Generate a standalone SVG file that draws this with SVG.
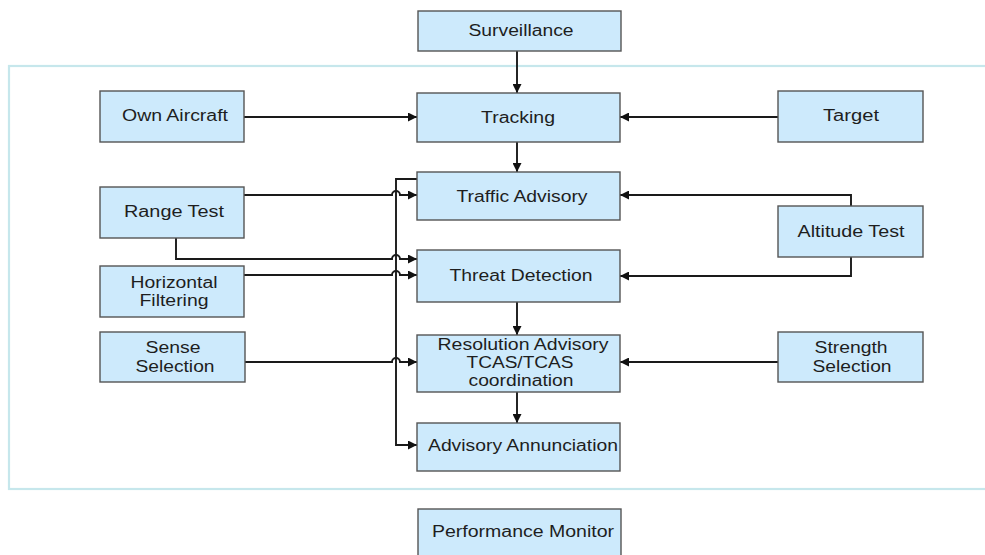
<svg xmlns="http://www.w3.org/2000/svg" width="985" height="555" viewBox="0 0 985 555">
<style>
.box{fill:#cdeafc;stroke:#555;stroke-width:1.4}
.t{font-family:"Liberation Sans",Arial,sans-serif;font-size:16px;fill:#1e1e1e;text-anchor:middle}
.c{fill:none;stroke:#1a1a1a;stroke-width:1.9}
.frame{fill:none;stroke:#c6e7ec;stroke-width:2.2}
</style>
<defs>
<marker id="ah" viewBox="0 0 10 10" refX="10" refY="5" markerWidth="11" markerHeight="9" markerUnits="userSpaceOnUse" orient="auto">
<path d="M0,0 L10,5 L0,10 z" fill="#111"/>
</marker>
</defs>
<rect class="frame" x="9" y="66" width="1000" height="423"/>
<g id="connectors">
<path class="c" d="M517,51 V93" marker-end="url(#ah)"/>
<path class="c" d="M244,117 H417" marker-end="url(#ah)"/>
<path class="c" d="M778,117 H620" marker-end="url(#ah)"/>
<path class="c" d="M517,142 V172" marker-end="url(#ah)"/>
<path class="c" d="M417,179 H396 V445 H417" marker-end="url(#ah)"/>
<path class="c" d="M244,195 H392 A4,4 0 0 1 400,195 H417" marker-end="url(#ah)"/>
<path class="c" d="M176,238 V259 H392 A4,4 0 0 1 400,259 H417" marker-end="url(#ah)"/>
<path class="c" d="M244,275 H392 A4,4 0 0 1 400,275 H417" marker-end="url(#ah)"/>
<path class="c" d="M244,362 H392 A4,4 0 0 1 400,362 H417" marker-end="url(#ah)"/>
<path class="c" d="M851,206 V195 H620" marker-end="url(#ah)"/>
<path class="c" d="M851,257 V276 H620" marker-end="url(#ah)"/>
<path class="c" d="M778,362 H620" marker-end="url(#ah)"/>
<path class="c" d="M517,302 V335" marker-end="url(#ah)"/>
<path class="c" d="M517,392 V423" marker-end="url(#ah)"/>
</g>
<g id="surveillance"><rect class="box" x="418" y="11" width="203" height="40"/><text class="t" x="521" y="36" textLength="105" lengthAdjust="spacingAndGlyphs">Surveillance</text></g>
<g id="own-aircraft"><rect class="box" x="100" y="91" width="144" height="51"/><text class="t" x="175" y="121" textLength="106" lengthAdjust="spacingAndGlyphs">Own Aircraft</text></g>
<g id="tracking"><rect class="box" x="417" y="93" width="203" height="49"/><text class="t" x="518" y="123" textLength="74" lengthAdjust="spacingAndGlyphs">Tracking</text></g>
<g id="target"><rect class="box" x="778" y="91" width="145" height="51"/><text class="t" x="851" y="121" textLength="56" lengthAdjust="spacingAndGlyphs">Target</text></g>
<g id="traffic-advisory"><rect class="box" x="417" y="172" width="203" height="48"/><text class="t" x="522" y="202" textLength="131" lengthAdjust="spacingAndGlyphs">Traffic Advisory</text></g>
<g id="range-test"><rect class="box" x="100" y="187" width="144" height="51"/><text class="t" x="174" y="217" textLength="100" lengthAdjust="spacingAndGlyphs">Range Test</text></g>
<g id="altitude-test"><rect class="box" x="778" y="206" width="145" height="51"/><text class="t" x="851" y="237" textLength="107" lengthAdjust="spacingAndGlyphs">Altitude Test</text></g>
<g id="horizontal-filtering"><rect class="box" x="100" y="266" width="144" height="51"/><text class="t" x="174" y="288" textLength="87" lengthAdjust="spacingAndGlyphs">Horizontal</text><text class="t" x="174" y="306" textLength="69" lengthAdjust="spacingAndGlyphs">Filtering</text></g>
<g id="threat-detection"><rect class="box" x="417" y="250" width="203" height="52"/><text class="t" x="521" y="281" textLength="143" lengthAdjust="spacingAndGlyphs">Threat Detection</text></g>
<g id="sense-selection"><rect class="box" x="100" y="332" width="145" height="50"/><text class="t" x="173" y="353" textLength="55" lengthAdjust="spacingAndGlyphs">Sense</text><text class="t" x="175" y="372" textLength="79" lengthAdjust="spacingAndGlyphs">Selection</text></g>
<g id="resolution-advisory"><rect class="box" x="417" y="335" width="203" height="57"/><text class="t" x="523" y="350" textLength="171" lengthAdjust="spacingAndGlyphs">Resolution Advisory</text><text class="t" x="520" y="368" textLength="107" lengthAdjust="spacingAndGlyphs">TCAS/TCAS</text><text class="t" x="521" y="386" textLength="105" lengthAdjust="spacingAndGlyphs">coordination</text></g>
<g id="strength-selection"><rect class="box" x="778" y="332" width="145" height="50"/><text class="t" x="851" y="353" textLength="73" lengthAdjust="spacingAndGlyphs">Strength</text><text class="t" x="852" y="372" textLength="79" lengthAdjust="spacingAndGlyphs">Selection</text></g>
<g id="advisory-annunciation"><rect class="box" x="417" y="423" width="203" height="48"/><text class="t" x="523" y="451" textLength="190" lengthAdjust="spacingAndGlyphs">Advisory Annunciation</text></g>
<g id="performance-monitor"><rect class="box" x="418" y="509" width="203" height="52"/><text class="t" x="523" y="537" textLength="182" lengthAdjust="spacingAndGlyphs">Performance Monitor</text></g>
</svg>
